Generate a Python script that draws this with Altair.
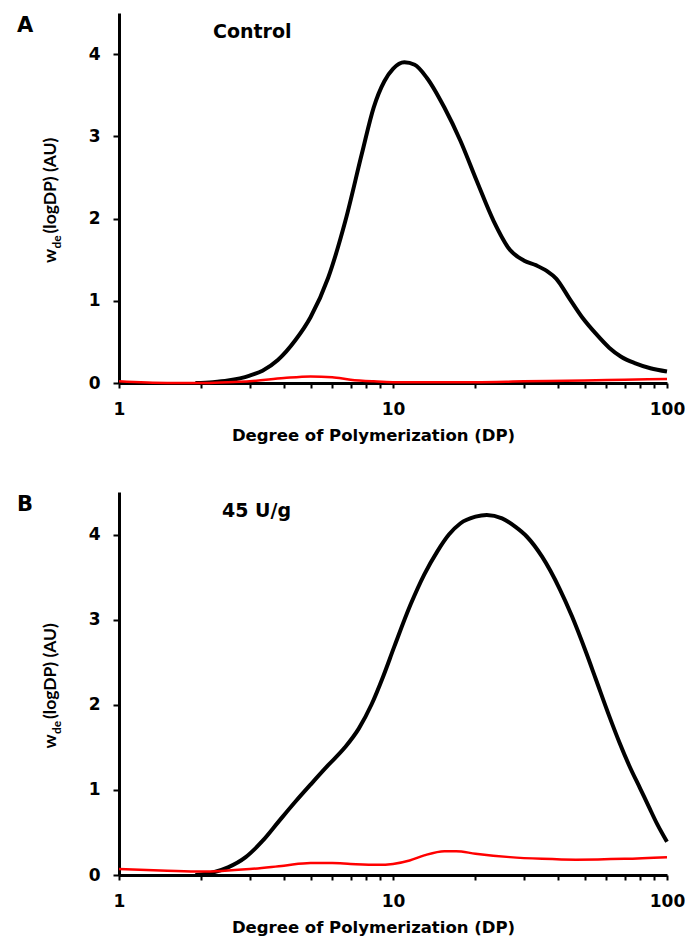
import altair as alt
import pandas as pd

# ---------------- data ----------------
# Panel A (Control)
a_black_dp = [1.9, 2.2, 2.5, 3.0, 3.34, 3.8, 4.4, 5.0, 5.8, 6.7, 7.7, 8.5, 9.3, 10.0, 11.0, 12.0,
              13.3, 15.4, 17.6, 20.2, 23.3, 26.7, 30.0, 33.4, 36.5, 39.4, 44.0, 49.0, 55.0, 61.5,
              68.0, 76.7, 87.0, 100.0]
a_black_w = [0.0, 0.01, 0.03, 0.09, 0.15, 0.28, 0.52, 0.80, 1.28, 1.97, 2.79, 3.35, 3.67, 3.82,
             3.90, 3.87, 3.71, 3.35, 2.95, 2.46, 1.97, 1.62, 1.49, 1.43, 1.36, 1.27, 1.03, 0.80,
             0.60, 0.43, 0.32, 0.24, 0.18, 0.14]
a_red_dp = [1.0, 1.5, 2.0, 2.5, 3.0, 4.0, 5.0, 6.0, 7.0, 8.5, 10.0, 15.0, 20.0, 30.0, 50.0, 70.0, 100.0]
a_red_w = [0.02, 0.0, 0.0, 0.01, 0.02, 0.06, 0.08, 0.07, 0.04, 0.02, 0.01, 0.01, 0.01, 0.02, 0.03,
           0.04, 0.05]

# Panel B (45 U/g)
b_black_dp = [1.9, 2.2, 2.5, 2.9, 3.34, 3.83, 4.4, 5.06, 5.8, 6.68, 7.5, 8.34, 9.2, 10.1, 11.6, 13.0,
              14.5, 16.0, 17.6, 20.0, 22.0, 25.0, 28.0, 30.7, 35.0, 40.6, 45.0, 50.6, 55.0, 61.5,
              67.0, 72.7, 80.0, 85.9, 92.0, 100.0]
b_black_w = [0.0, 0.03, 0.09, 0.21, 0.40, 0.63, 0.86, 1.08, 1.29, 1.50, 1.72, 2.00, 2.33, 2.68,
             3.18, 3.53, 3.80, 4.00, 4.13, 4.21, 4.23, 4.19, 4.09, 3.98, 3.74, 3.36, 3.04, 2.62,
             2.30, 1.87, 1.56, 1.29, 1.01, 0.80, 0.60, 0.39]
b_red_dp = [1.0, 1.5, 2.0, 3.0, 4.0, 5.0, 6.0, 7.0, 8.8, 10.0, 11.5, 13.0, 15.4, 17.0, 20.0, 26.7,
            35.0, 46.5, 70.0, 100.0]
b_red_w = [0.07, 0.05, 0.04, 0.07, 0.11, 0.14, 0.14, 0.13, 0.12, 0.13, 0.17, 0.23, 0.28, 0.28, 0.25,
           0.21, 0.19, 0.18, 0.19, 0.21]

x_tick_values = [1, 2, 3, 4, 5, 6, 7, 8, 9, 10, 20, 30, 40, 50, 60, 70, 80, 90, 100]
x_labelled = [1, 10, 100]
y_tick_values = [0, 1, 2, 3, 4]

x_title = "Degree of Polymerization (DP)"
FONT = "DejaVu Sans"      # horizontal texts
VFONT = "Lato"            # rotated y title
W = 548


def panel(bdp, bw, rdp, rw, tag, label, label_x, height):
    xaxis = alt.Axis(
        values=x_tick_values,
        labelExpr="indexof([%s], datum.value) >= 0 ? format(datum.value, 'd') : ''"
        % ",".join(str(v) for v in x_labelled),
        title=x_title, titleX=254, grid=False, domainColor="black", domainWidth=3,
        tickColor="black", tickWidth=2, tickSize=5, labelFlush=False, labelOverlap=False,
        labelFont=FONT, labelFontWeight="bold", labelFontSize=17, labelColor="black",
        labelPadding=13, titleFont=FONT, titleFontWeight="bold", titleFontSize=16.5,
        titleColor="black", titlePadding=10,
    )
    yaxis = alt.Axis(
        values=y_tick_values, title=None, grid=False, domainColor="black", domainWidth=3,
        tickColor="black", tickWidth=2, tickSize=6, labelFont=FONT, labelFontWeight="bold",
        labelFontSize=17, labelColor="black", labelPadding=13,
    )
    x = alt.X("dp:Q", scale=alt.Scale(type="log", domain=[1, 100]), axis=xaxis)
    y = alt.Y("w:Q", scale=alt.Scale(domain=[0, 4.5], nice=False), axis=yaxis)

    black = alt.Chart(pd.DataFrame({"dp": bdp, "w": bw})).mark_line(
        color="black", strokeWidth=4, interpolate="monotone").encode(x=x, y=y)
    red = alt.Chart(pd.DataFrame({"dp": rdp, "w": rw})).mark_line(
        color="#ff0000", strokeWidth=2.5, interpolate="monotone").encode(x=x, y=y)

    def txt(s, px, py, size=18, align="left", angle=0, font=FONT):
        props = dict(font=font, fontWeight="bold", fontSize=size, color="black",
                     align=align, baseline="alphabetic")
        if angle:
            props["angle"] = angle
        return alt.Chart(pd.DataFrame({"t": [s]})).mark_text(**props).encode(
            x=alt.value(px), y=alt.value(py), text="t:N")

    mid = height / 2
    p = mid + 65
    layers = [
        black, red,
        txt(label, label_x, 25, size=19),
        txt(tag, -102, 19, size=21),
        txt("w", -63, p, size=17.5, align="left", angle=270, font=VFONT),
        txt("de", -58, p - 14.5, size=12, align="left", angle=270, font=VFONT),
        txt("(logDP) (AU)", -63, p - 29.5, size=17.5, align="left", angle=270, font=VFONT),
    ]
    return alt.layer(*layers).properties(width=W, height=height)


pa = panel(a_black_dp, a_black_w, a_red_dp, a_red_w, "A", "Control", 94, 370)
pb = panel(b_black_dp, b_black_w, b_red_dp, b_red_w, "B", "45 U/g", 103, 383)

chart = alt.vconcat(pa, pb, spacing=48).properties(
    padding={"left": 9, "top": 5, "right": 0, "bottom": 0}
).configure(background="white").configure_view(stroke=None)

chart.save("out.html", embed_options={"renderer": "svg", "actions": False})
